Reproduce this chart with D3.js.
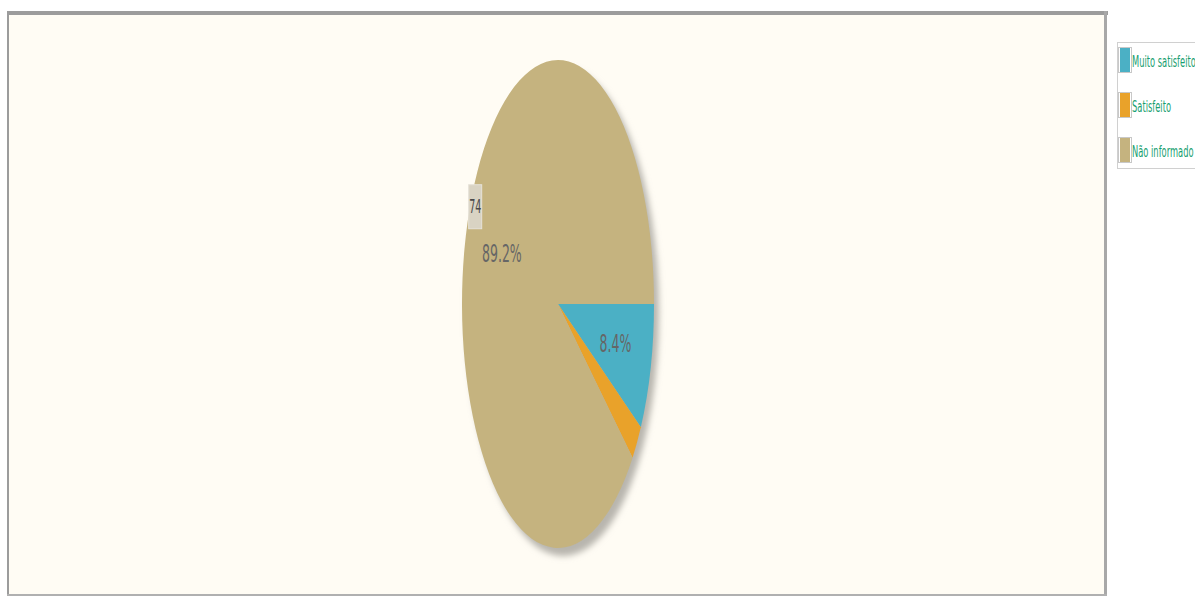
<!DOCTYPE html>
<html><head><meta charset="utf-8">
<script src="https://cdn.jsdelivr.net/npm/d3@7"></script>
<style>body{margin:0;background:#fff}svg{display:block}</style>
</head><body>
<script>
const categories = ["Muito satisfeito", "Satisfeito", "Não informado"];
const values = [7, 2, 74];
const colors = ["#4bb0c5", "#e9a22a", "#c5b37f"];

const W = 1195, H = 597;
const svg = d3.select("body").append("svg").attr("width", W).attr("height", H);
const defs = svg.append("defs");
defs.append("filter").attr("id","blur").attr("x","-20%").attr("y","-20%").attr("width","140%").attr("height","140%")
  .append("feGaussianBlur").attr("stdDeviation", 3);

// frame
svg.append("rect").attr("x", 8).attr("y", 12).attr("width", 1098).attr("height", 583).attr("fill", "#fffcf4");
svg.append("rect").attr("x", 8).attr("y", 11).attr("width", 1100).attr("height", 4).attr("fill", "#9c9c9c");
svg.append("rect").attr("x", 7).attr("y", 11).attr("width", 2).attr("height", 585).attr("fill", "#9c9c9c");
svg.append("rect").attr("x", 1104).attr("y", 11).attr("width", 3).attr("height", 585).attr("fill", "#a8a8a8");
svg.append("rect").attr("x", 7).attr("y", 594).attr("width", 1100).attr("height", 2).attr("fill", "#b0b0b0");

const cx = 558, cy = 304, ry = 244, rx = 96;
const total = d3.sum(values);
const pie = d3.pie().sort(null).startAngle(Math.PI/2).endAngle(Math.PI/2 + 2*Math.PI);
const arcs = pie(values);
const arc = d3.arc().innerRadius(0).outerRadius(ry);

// shadow
svg.append("g").attr("filter","url(#blur)")
  .append("g").attr("transform", `translate(${cx+5},${cy+8}) scale(${rx/ry},1)`)
  .append("circle").attr("r", ry).attr("fill", "#b8b5ae");
const g2 = svg.append("g").attr("transform", `translate(${cx},${cy}) scale(${rx/ry},1)`);
g2.selectAll("path").data(arcs).join("path")
  .attr("d", arc).attr("fill", (d,i) => colors[i]);

function pt(a, r) {
  return [cx + Math.sin(a) * r * rx/ry, cy - Math.cos(a) * r];
}
// percent labels
arcs.forEach((d, i) => {
  const pct = d.data / total * 100;
  if (pct < 5) return;
  const mid = (d.startAngle + d.endAngle) / 2;
  const [x, y] = pt(mid, ry * 0.62);
  svg.append("text").attr("transform", `translate(${x},${y}) scale(0.5,1)`)
    .attr("text-anchor","middle").attr("dy","0.35em")
    .attr("font-family","DejaVu Sans").attr("font-size", 25).attr("fill","#666")
    .text(pct.toFixed(1) + "%");
});
// value label for largest
const big = arcs[2];
{
  const mid = (big.startAngle + big.endAngle) / 2 + 0.09;
  const [x, y] = pt(mid, ry * 0.955);
  svg.append("rect").attr("x", x-6).attr("y", y-22).attr("width", 13).attr("height", 44)
    .attr("fill","#d9d3c3").attr("stroke","#e6e2d8").attr("stroke-width",1);
  svg.append("text").attr("transform", `translate(${x+0.5},${y}) scale(0.5,1)`)
    .attr("text-anchor","middle").attr("dy","0.35em")
    .attr("font-family","DejaVu Sans").attr("font-size", 19).attr("fill","#4a4a4a")
    .text(big.data);
}

// legend
const lg = svg.append("g");
lg.append("rect").attr("x", 1117.5).attr("y", 42.5).attr("width", 90).attr("height", 126)
  .attr("fill","#fff").attr("stroke","#d0d0d0");
categories.forEach((c, i) => {
  const y = 48 + i * 45;
  lg.append("rect").attr("x", 1118.5).attr("y", y - 0.5).attr("width", 13).attr("height", 25)
    .attr("fill","none").attr("stroke","#c8c8c8");
  lg.append("rect").attr("x", 1120).attr("y", y).attr("width", 10).attr("height", 24).attr("fill", colors[i]);
  lg.append("text").attr("transform", `translate(1132,${y+13}) scale(0.52,1)`)
    .attr("dy","0.35em").attr("font-family","DejaVu Sans").attr("font-size", 16).attr("fill","#18a070")
    .text(c);
});
</script>
</body></html>
